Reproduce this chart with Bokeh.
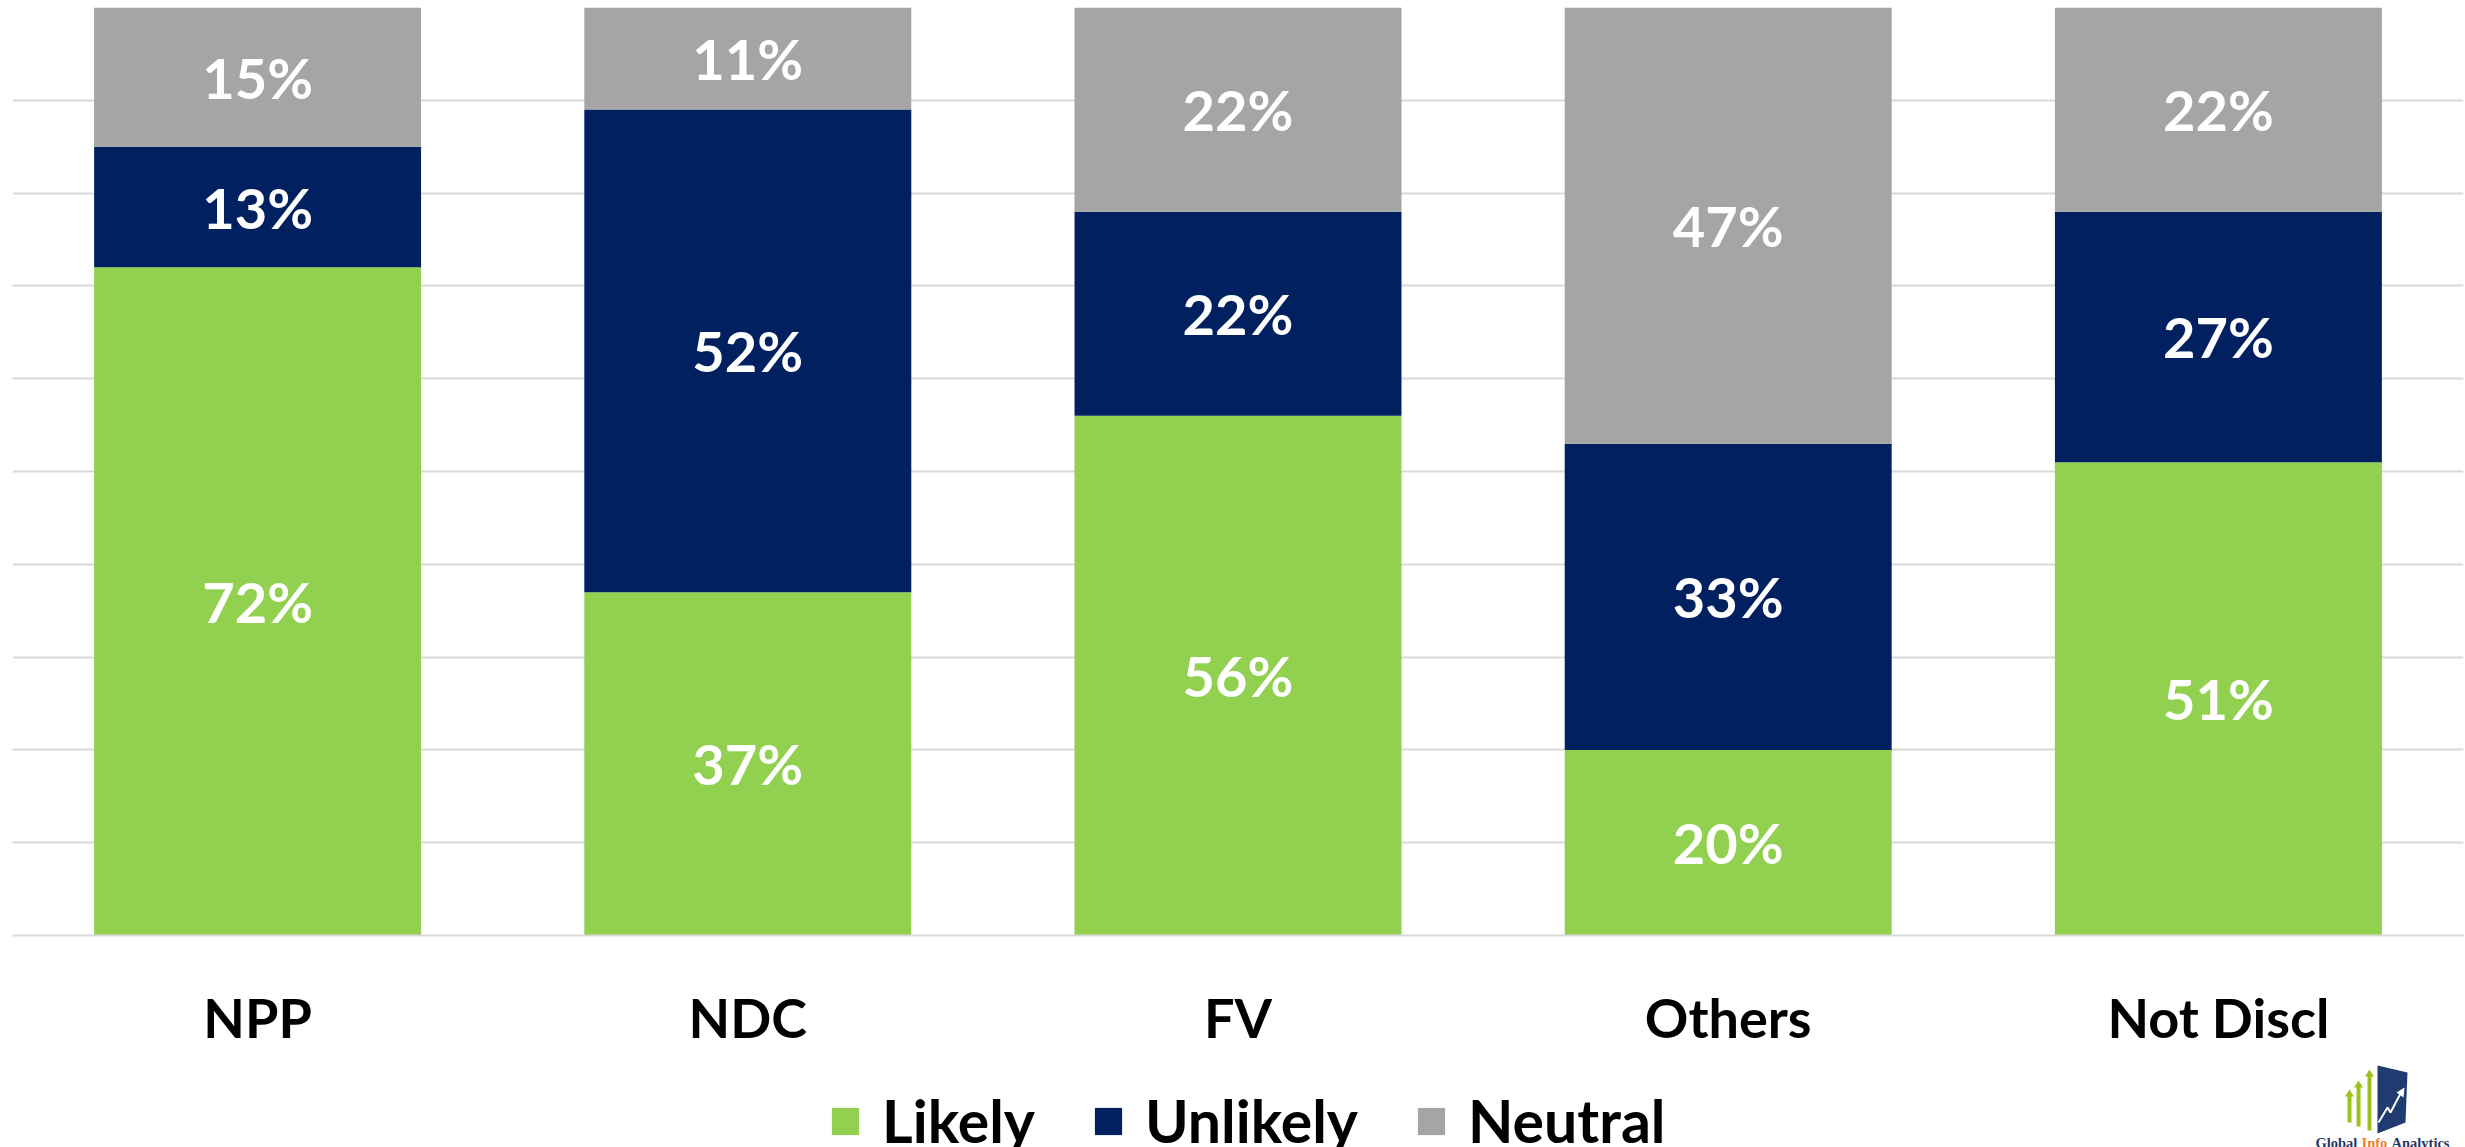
from bokeh.plotting import figure
from bokeh.layouts import column
from bokeh.models import (ColumnDataSource, Legend, LegendItem, FactorRange, FixedTicker, Range1d)
from bokeh.core.properties import value
from bokeh.embed import file_html
from bokeh.resources import INLINE

categories = ["NPP", "NDC", "FV", "Others", "Not Discl"]
likely = [72, 37, 56, 20, 51]
unlikely = [13, 52, 22, 33, 27]
neutral = [15, 11, 22, 47, 22]
series = ["Likely", "Unlikely", "Neutral"]
colors = ["#92D050", "#002060", "#A5A5A5"]
grid_ticks = [0, 10, 20, 30, 40, 50, 60, 70, 80, 90, 100]

FONT = "Lato"
W = 2465
BL, BR = 12, 2          # left / right borders (frames of both figures are aligned)

H1 = 1061               # frame 7..935 + bottom axis panel
TOP2 = H1
H2 = 1147 - TOP2

src = ColumnDataSource(dict(cat=categories, Likely=likely, Unlikely=unlikely, Neutral=neutral))

p = figure(x_range=FactorRange(*categories, range_padding=0), y_range=(0, 100),
           width=W, height=H1, output_backend="svg", toolbar_location=None,
           min_border_left=BL, min_border_right=BR, min_border_top=7, min_border_bottom=126)

renderers = p.vbar_stack(series, x="cat", width=0.667, color=colors, line_width=0, source=src)

# value labels
lx, ly, lt = [], [], []
for i, c in enumerate(categories):
    base = 0
    for vals in (likely, unlikely, neutral):
        v = vals[i]
        lx.append(c)
        ly.append(base + v / 2)
        lt.append(f"{v}%")
        base += v
lab_src = ColumnDataSource(dict(x=lx, y=ly, t=lt))
p.text(x="x", y="y", text="t", source=lab_src, text_align="center", text_baseline="middle",
       text_color="white", text_font=value(FONT), text_font_style="bold", text_font_size="56px")

# axes / grid
p.yaxis.visible = False
p.xgrid.visible = False
p.ygrid.ticker = FixedTicker(ticks=grid_ticks)
p.ygrid.grid_line_color = "#D9D9D9"
p.ygrid.grid_line_width = 2
p.outline_line_color = None

xa = p.xaxis[0]
xa.axis_line_color = "#D9D9D9"
xa.axis_line_width = 2
xa.major_tick_line_color = None
xa.minor_tick_line_color = None
xa.major_label_text_font = FONT
xa.major_label_text_font_style = "bold"
xa.major_label_text_font_size = "54px"
xa.major_label_text_color = "black"
xa.major_label_standoff = 43

# ---- bottom strip: legend + logo (page coordinates) ----
p2 = figure(x_range=Range1d(BL, W - BR), y_range=Range1d(1147, TOP2), title=None,
            width=W, height=H2, output_backend="svg", toolbar_location=None,
            min_border_left=BL, min_border_right=BR, min_border_top=0, min_border_bottom=0)
p2.axis.visible = False
p2.grid.visible = False
p2.outline_line_color = None
p2.border_fill_color = None
p2.background_fill_color = None

# legend proxies: one zero-height bar each, placed left of the visible range
proxies = [p2.vbar(x=[0], top=[0], bottom=[0], width=1, color=c, line_width=0) for c in colors]
legend = Legend(items=[LegendItem(label=s, renderers=[proxies[i]]) for i, s in enumerate(series)],
                orientation="horizontal", location=(828 - BL, -9),
                glyph_width=34, glyph_height=34, label_standoff=20, spacing=56,
                label_text_font=FONT, label_text_font_style="bold", label_text_font_size="59px",
                label_text_color="black", border_line_color=None, background_fill_color=None,
                background_fill_alpha=0, padding=0, margin=0)
p2.add_layout(legend, "center")

# logo (decoration)
p2.patch(x=[2377, 2407, 2405, 2377], y=[1065, 1072, 1122, 1133], color="#1F3B70", line_width=0)
for ax_, top, bot in [(2349, 1089, 1122), (2358, 1080, 1126), (2369, 1069, 1130)]:
    p2.patch(x=[ax_ - 2, ax_ - 2, ax_ - 4.5, ax_, ax_ + 4.5, ax_ + 2, ax_ + 2],
             y=[bot, top + 7, top + 7, top, top + 7, top + 7, bot],
             color="#9BC31C", line_width=0)
p2.line(x=[2378, 2387, 2390, 2400], y=[1122, 1107, 1112, 1093], line_color="white", line_width=2)
p2.patch(x=[2396, 2404, 2403], y=[1092, 1087, 1097], color="white", line_width=0)

p2.text(x=[2315, 2361, 2391], y=[1142, 1142, 1142], text=["Global", "Info", "Analytics"],
        text_color=["#1F3864", "#F07C1E", "#1F3864"], text_font=value("Liberation Serif"),
        text_font_style="bold", text_font_size="14.5px", text_baseline="alphabetic", text_align="left")

layout = column(p, p2, spacing=0)
open("out.html", "w").write(file_html(layout, INLINE))
